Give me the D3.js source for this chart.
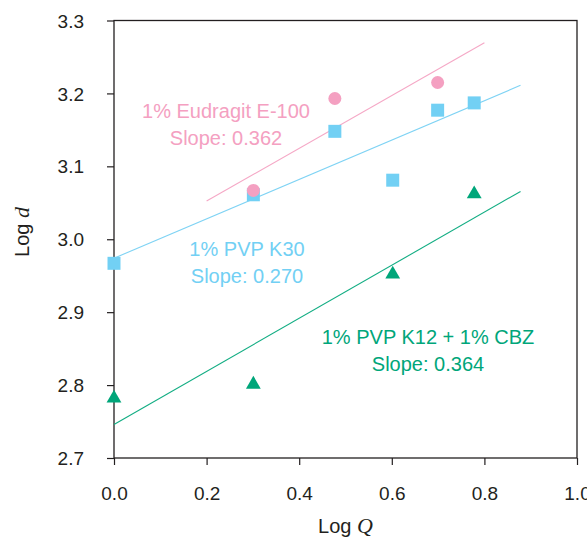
<!DOCTYPE html>
<html lang="en">
<head>
<meta charset="UTF-8">
<title>Log d vs Log Q</title>
<script src="https://d3js.org/d3.v7.min.js"></script>
<style>
  body { margin: 0; background: #fff; font-family: "Liberation Sans", Arial, sans-serif; }
  svg text { fill: #231f20; }
</style>
</head>
<body>
<svg id="chart" width="587" height="538"></svg>
<script>
  // Data
  const series = ['1% Eudragit E-100', '1% PVP K30', '1% PVP K12 + 1% CBZ'];
  const slopes = [0.362, 0.270, 0.364];
  const intercepts = [2.980, 2.974, 2.746];
  const fitRange = [[0.2, 0.8], [0, 0.878], [0, 0.878]];

  const eudragitX = [0.301, 0.477, 0.699];
  const eudragitY = [3.067, 3.193, 3.215];
  const k30X = [0, 0.301, 0.477, 0.602, 0.699, 0.778];
  const k30Y = [2.967, 3.061, 3.148, 3.081, 3.177, 3.187];
  const k12X = [0, 0.301, 0.602, 0.778];
  const k12Y = [2.782, 2.801, 2.952, 3.062];

  const xTicks = [0, 0.2, 0.4, 0.6, 0.8, 1.0];
  const yTicks = [2.7, 2.8, 2.9, 3.0, 3.1, 3.2, 3.3];

  const colors = ['#f4a0c1', '#72d0f4', '#00a67a'];
  const lineColors = ['#f5a8c6', '#7fd3f4', '#12ad83'];

  // Layout
  const m = { left: 114, right: 577, top: 20.5, bottom: 458 };
  const svg = d3.select('#chart');
  const x = d3.scaleLinear().domain([0, 1]).range([m.left, m.right]);
  const y = d3.scaleLinear().domain([2.7, 3.3]).range([m.bottom, m.top]);

  // Frame
  svg.append('rect')
    .attr('x', m.left).attr('y', m.top)
    .attr('width', m.right - m.left).attr('height', m.bottom - m.top)
    .attr('fill', 'none').attr('stroke', '#231f20').attr('stroke-width', 1.3);

  // Axes
  const xAxis = svg.append('g')
    .attr('transform', `translate(0,${m.bottom})`)
    .call(d3.axisBottom(x).tickValues(xTicks).tickFormat(d3.format('.1f')).tickSize(7).tickPadding(22));
  const yAxis = svg.append('g')
    .attr('transform', `translate(${m.left},0)`)
    .call(d3.axisLeft(y).tickValues(yTicks).tickFormat(d3.format('.1f')).tickSize(7).tickPadding(23));
  [xAxis, yAxis].forEach(g => {
    g.select('.domain').remove();
    g.selectAll('line').attr('stroke', '#231f20').attr('stroke-width', 1.2);
    g.selectAll('text').attr('font-size', 19).attr('font-family', '"Liberation Sans", Arial, sans-serif').attr('fill', '#231f20');
  });
  yAxis.selectAll('text').attr('dy', '0.35em');

  // Axis titles
  const xt = svg.append('text').attr('x', (m.left + m.right) / 2).attr('y', 533)
    .attr('text-anchor', 'middle').attr('font-size', 20);
  xt.append('tspan').text('Log ');
  xt.append('tspan').attr('font-family', '"Liberation Serif", "Times New Roman", serif').attr('font-style', 'italic').attr('font-size', 22).text('Q');

  const yt = svg.append('text').attr('transform', 'translate(29,232) rotate(-90)')
    .attr('text-anchor', 'middle').attr('font-size', 20);
  yt.append('tspan').text('Log ');
  yt.append('tspan').attr('font-family', '"Liberation Serif", "Times New Roman", serif').attr('font-style', 'italic').attr('font-size', 22).text('d');

  // Fit lines
  const plot = svg.append('g');
  fitRange.forEach((r, i) => {
    plot.append('line')
      .attr('x1', x(r[0])).attr('y1', y(intercepts[i] + slopes[i] * r[0]))
      .attr('x2', x(r[1])).attr('y2', y(intercepts[i] + slopes[i] * r[1]))
      .attr('stroke', lineColors[i]).attr('stroke-width', 1.1);
  });

  // Markers
  const k30 = k30X.map((v, i) => [v, k30Y[i]]);
  const eud = eudragitX.map((v, i) => [v, eudragitY[i]]);
  const k12 = k12X.map((v, i) => [v, k12Y[i]]);

  plot.selectAll('.sq').data(k30).enter().append('path')
    .attr('d', d3.symbol(d3.symbolSquare, 169))
    .attr('transform', d => `translate(${x(d[0])},${y(d[1])})`)
    .attr('fill', colors[1]);

  plot.selectAll('.ci').data(eud).enter().append('circle')
    .attr('cx', d => x(d[0])).attr('cy', d => y(d[1])).attr('r', 6.5)
    .attr('fill', colors[0]);

  plot.selectAll('.tr').data(k12).enter().append('path')
    .attr('d', d3.symbol(d3.symbolTriangle, 95))
    .attr('transform', d => `translate(${x(d[0])},${y(d[1])})`)
    .attr('fill', colors[2]);

  // Series labels
  const labelPos = [[226, 118], [247, 256], [428, 344]];
  series.forEach((name, i) => {
    const t = svg.append('text')
      .attr('x', labelPos[i][0]).attr('y', labelPos[i][1])
      .attr('text-anchor', 'middle').attr('font-size', 20)
      .style('fill', colors[i]);
    t.append('tspan').text(name);
    t.append('tspan').attr('x', labelPos[i][0]).attr('dy', 26.5).text('Slope: ' + slopes[i].toFixed(3));
  });
</script>
</body>
</html>
